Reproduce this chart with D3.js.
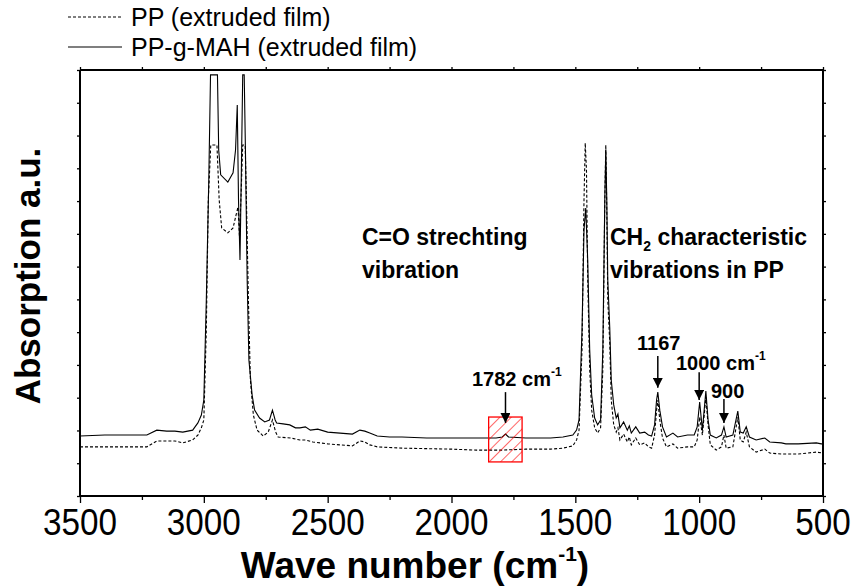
<!DOCTYPE html>
<html><head><meta charset="utf-8">
<script src="https://cdn.jsdelivr.net/npm/d3@7"></script>
<style>html,body{margin:0;padding:0;background:#fff;}svg{display:block;}</style>
</head><body>
<svg id="chart" width="854" height="586"></svg>
<script>
// ---- Data ----
const xTickValues = [3500, 3000, 2500, 2000, 1500, 1000, 500];
const xMinorTicks = [3250, 2750, 2250, 1750, 1250, 750];

const ppgmahWave = [3500,3400,3300,3230,3190,3150,3117,3085,3045,3024,3010,3000,2990,2980,2973,2945,2940,2932,2903,2882,2872,2865,2860,2854,2849,2843,2837,2832,2825,2818,2805,2795,2775,2754,2735,2723,2712,2706,2680,2653,2630,2612,2590,2570,2540,2500,2450,2400,2370,2350,2330,2300,2250,2200,2100,2000,1900,1820,1795,1782,1770,1700,1600,1550,1510,1495,1485,1473,1465,1458,1450,1442,1434,1422,1410,1398,1389,1381,1377,1373,1369,1361,1355,1345,1335,1328,1320,1305,1290,1282,1274,1256,1240,1220,1205,1192,1180,1172,1167,1159,1148,1132,1106,1087,1047,1020,1008,998,987,973,964,955,931,910,900,891,864,844,834,822,810,797,770,735,715,668,650,600,527,507,500];
const ppgmahAbs = [0.183,0.186,0.186,0.186,0.201,0.198,0.198,0.195,0.201,0.223,0.247,0.293,0.598,0.964,1.285,1.285,1.056,0.980,0.958,0.986,1.056,1.193,0.903,0.720,0.964,1.285,1.285,1.056,0.659,0.415,0.308,0.262,0.238,0.226,0.232,0.262,0.232,0.223,0.220,0.217,0.208,0.208,0.211,0.201,0.204,0.195,0.192,0.189,0.201,0.198,0.192,0.183,0.180,0.180,0.177,0.177,0.177,0.177,0.180,0.189,0.180,0.177,0.177,0.180,0.186,0.201,0.232,0.507,0.812,0.879,0.720,0.446,0.308,0.238,0.217,0.232,0.446,0.903,1.056,0.903,0.659,0.513,0.354,0.278,0.238,0.250,0.208,0.226,0.201,0.214,0.192,0.211,0.192,0.195,0.186,0.183,0.217,0.293,0.317,0.262,0.211,0.180,0.192,0.180,0.186,0.186,0.211,0.287,0.201,0.320,0.232,0.186,0.177,0.186,0.211,0.180,0.186,0.259,0.195,0.192,0.211,0.180,0.171,0.177,0.165,0.162,0.159,0.159,0.162,0.159,0.159];

const ppWave = [3500,3400,3230,3190,3117,3085,3045,3024,3010,3000,2990,2982,2972,2947,2938,2928,2903,2882,2870,2862,2856,2849,2843,2833,2828,2820,2812,2800,2785,2760,2740,2723,2710,2700,2650,2612,2590,2560,2500,2400,2370,2350,2330,2300,2200,2000,1900,1800,1700,1600,1550,1510,1495,1485,1473,1465,1460,1455,1450,1442,1434,1422,1410,1398,1389,1381,1377,1373,1369,1361,1355,1345,1335,1328,1320,1305,1290,1282,1274,1256,1240,1220,1205,1192,1180,1172,1167,1159,1148,1132,1106,1087,1047,1020,1008,998,987,973,964,955,931,910,900,891,864,844,834,822,810,797,770,735,715,668,600,527,500];
const ppAbs = [0.150,0.150,0.150,0.168,0.168,0.162,0.171,0.186,0.208,0.232,0.507,0.903,1.071,1.071,0.903,0.818,0.803,0.818,0.857,0.882,0.790,0.934,1.071,1.071,0.903,0.598,0.354,0.247,0.201,0.183,0.195,0.232,0.195,0.180,0.177,0.171,0.171,0.165,0.159,0.153,0.168,0.165,0.156,0.150,0.146,0.143,0.140,0.140,0.143,0.143,0.146,0.153,0.171,0.201,0.446,0.903,1.077,0.995,0.659,0.385,0.262,0.208,0.192,0.208,0.385,0.903,1.071,0.873,0.598,0.467,0.293,0.217,0.195,0.208,0.171,0.189,0.165,0.180,0.156,0.177,0.156,0.162,0.150,0.146,0.186,0.262,0.293,0.232,0.177,0.150,0.159,0.146,0.150,0.150,0.171,0.241,0.186,0.302,0.217,0.156,0.140,0.150,0.186,0.146,0.150,0.241,0.171,0.165,0.195,0.150,0.134,0.143,0.131,0.128,0.128,0.134,0.131];

const seriesNames = ["PP (extruded film)", "PP-g-MAH (extruded film)"];

// annotation data
const markers = [
  {wave: 1782, label: "1782 cm", sup: "-1", y0: 0.317, y1: 0.223},
  {wave: 1167, label: "1167", sup: "", y0: 0.427, y1: 0.330},
  {wave: 1000, label: "1000 cm", sup: "-1", y0: 0.378, y1: 0.293},
  {wave: 900,  label: "900", sup: "", y0: 0.296, y1: 0.223}
];
const boxWave = [1850, 1715];
const boxAbs = [0.104, 0.241];

// ---- Layout ----
const svg = d3.select("#chart");
const mL = 80, mR = 823, mT = 70, mB = 496;
const x = d3.scaleLinear().domain([3500, 500]).range([mL, mR]);
const y = d3.scaleLinear().domain([0, 1.3]).range([mB, mT]);
const font = "'Liberation Sans', Arial, Helvetica, sans-serif";

// hatch pattern
const defs = svg.append("defs");
const pat = defs.append("pattern").attr("id","hatch").attr("patternUnits","userSpaceOnUse")
  .attr("width",8).attr("height",8).attr("patternTransform","rotate(45)");
pat.append("line").attr("x1",0).attr("y1",0).attr("x2",0).attr("y2",8)
  .attr("stroke","#ff0000").attr("stroke-width",1.2);

// frame axes
const gB = svg.append("g").attr("transform",`translate(0,${mB})`)
  .call(d3.axisBottom(x).tickValues(xTickValues).tickSize(7).tickFormat(""));
gB.append("g").call(d3.axisBottom(x).tickValues(xMinorTicks).tickSize(4).tickFormat(""));
const gT = svg.append("g").attr("transform",`translate(0,${mT})`)
  .call(d3.axisTop(x).tickValues(xTickValues.concat(xMinorTicks)).tickSize(3).tickFormat(""));
const yTicks = d3.range(0, 14).map(d => d / 10);
const gL = svg.append("g").attr("transform",`translate(${mL},0)`)
  .call(d3.axisLeft(y).tickValues(yTicks).tickSize(3).tickFormat(""));
const gR = svg.append("g").attr("transform",`translate(${mR},0)`)
  .call(d3.axisRight(y).tickValues(yTicks).tickSize(3).tickFormat(""));
[gB, gT, gL, gR].forEach(g => {
  g.selectAll("path.domain").attr("stroke","#000").attr("stroke-width",2);
  g.selectAll("line").attr("stroke","#000").attr("stroke-width",1.3);
});
gB.selectAll("path.domain").attr("d", `M${mL},0H${mR}`);
gT.selectAll("path.domain").attr("d", `M${mL},0H${mR}`);
gL.selectAll("path.domain").attr("d", `M0,${mT}V${mB}`);
gR.selectAll("path.domain").attr("d", `M0,${mT}V${mB}`);

// tick labels (condensed face)
svg.append("g").selectAll("text").data(xTickValues).join("text")
  .attr("x", d => x(d)).attr("y", 535)
  .attr("text-anchor","middle").attr("font-family",font).attr("font-size",36)
  .attr("textLength", d => String(d).length * 18.5).attr("lengthAdjust","spacingAndGlyphs")
  .text(d => d);

// axis titles
const xt = svg.append("text").attr("x",415).attr("y",578).attr("text-anchor","middle")
  .attr("font-family",font).attr("font-size",37).attr("font-weight","bold");
xt.append("tspan").text("Wave number (cm");
xt.append("tspan").attr("font-size",21).attr("dy",-17).text("-1");
xt.append("tspan").attr("dy",17).text(")");

svg.append("text").attr("transform","translate(40,276) rotate(-90)").attr("text-anchor","middle")
  .attr("font-family",font).attr("font-size",35).attr("font-weight","bold").text("Absorption a.u.");

// lines
const line = d3.line().x(d => x(d[0])).y(d => y(d[1]));
const ppData = ppWave.map((w,i) => [w, ppAbs[i]]);
const mahData = ppgmahWave.map((w,i) => [w, ppgmahAbs[i]]);
svg.append("path").datum(ppData).attr("d", line).attr("fill","none")
  .attr("stroke","#000").attr("stroke-width",1.1).attr("stroke-dasharray","3,2");
svg.append("path").datum(mahData).attr("d", line).attr("fill","none")
  .attr("stroke","#000").attr("stroke-width",1.1);

// red hatched box
svg.append("rect").attr("x", x(boxWave[0])).attr("y", y(boxAbs[1]))
  .attr("width", x(boxWave[1]) - x(boxWave[0])).attr("height", y(boxAbs[0]) - y(boxAbs[1]))
  .attr("fill","url(#hatch)").attr("stroke","#ff0000").attr("stroke-width",1.3);

// arrows
defs.append("marker").attr("id","ah").attr("viewBox","0 0 10 10").attr("refX",10).attr("refY",5)
  .attr("markerWidth",10).attr("markerHeight",10).attr("markerUnits","userSpaceOnUse").attr("orient","auto")
  .append("path").attr("d","M0,0L10,5L0,10Z").attr("fill","#000");
svg.append("g").selectAll("line").data(markers).join("line")
  .attr("x1", d => x(d.wave)).attr("x2", d => x(d.wave))
  .attr("y1", d => y(d.y0)).attr("y2", d => y(d.y1))
  .attr("stroke","#000").attr("stroke-width",1.5).attr("marker-end","url(#ah)");

// marker labels
const labelPos = [
  {x: 472, y: 386, size: 20},
  {x: 637, y: 350, size: 20},
  {x: 676, y: 370, size: 20},
  {x: 711, y: 398, size: 20}
];
markers.forEach((m,i) => {
  const p = labelPos[i];
  const t = svg.append("text").attr("x",p.x).attr("y",p.y).attr("font-family",font)
    .attr("font-size",p.size).attr("font-weight","bold");
  t.append("tspan").text(m.label);
  if (m.sup) t.append("tspan").attr("font-size",12).attr("dy",-10).text(m.sup);
});

// region labels
const boldText = (xx, yy, s) => svg.append("text").attr("x",xx).attr("y",yy)
  .attr("font-family",font).attr("font-size",23).attr("font-weight","bold").text(s);
boldText(362, 245, "C=O strechting");
boldText(362, 278, "vibration");
const ch = svg.append("text").attr("x",610).attr("y",245).attr("font-family",font)
  .attr("font-size",23).attr("font-weight","bold");
ch.append("tspan").text("CH");
ch.append("tspan").attr("font-size",14).attr("dy",6).text("2");
ch.append("tspan").attr("dy",-6).text(" characteristic");
boldText(610, 278, "vibrations in PP");

// legend
const leg = svg.append("g");
seriesNames.forEach((n,i) => {
  const yy = 17 + i * 30;
  leg.append("line").attr("x1",68).attr("x2",122).attr("y1",yy).attr("y2",yy)
    .attr("stroke","#000").attr("stroke-width",1.1)
    .attr("stroke-dasharray", i === 0 ? "3,2" : null);
  leg.append("text").attr("x",131).attr("y",yy + 9).attr("font-family",font)
    .attr("font-size",25).text(n);
});
</script>
</body></html>
